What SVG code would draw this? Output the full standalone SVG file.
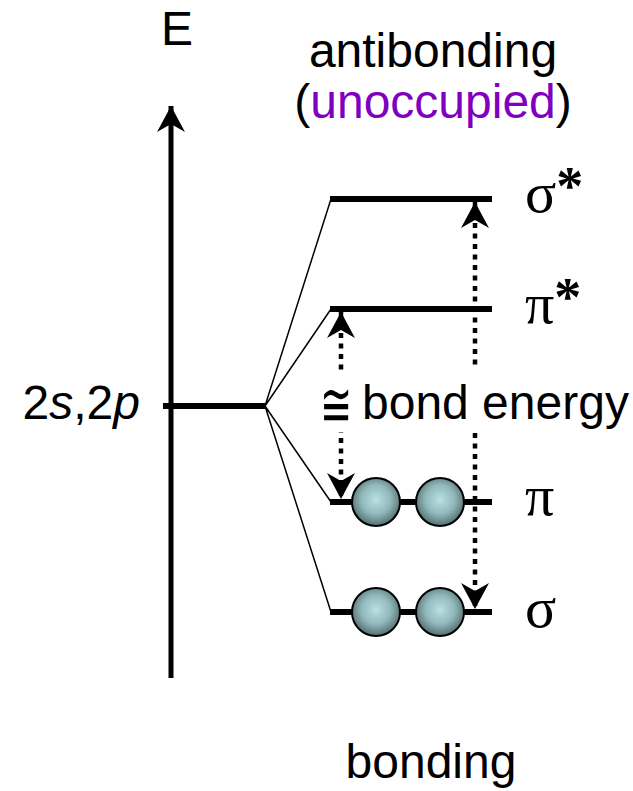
<svg xmlns="http://www.w3.org/2000/svg" width="633" height="791" viewBox="0 0 633 791">
<style>
.t{font-family:"Liberation Sans",Arial,sans-serif;font-size:48px;fill:#000}
.g{font-family:"Liberation Serif","Times New Roman",serif;font-size:58px;fill:#000}
.ast{font-weight:bold;font-size:54px}
.lvl{stroke:#000;stroke-width:6;fill:none}
.fan{stroke:#000;stroke-width:1.5;fill:none}
.dot{stroke:#000;stroke-width:4.5;stroke-dasharray:5 5.5;fill:none}
.ball{fill:url(#rg);stroke:#000;stroke-width:2}
</style>
<defs>
<radialGradient id="rg" cx="0.5" cy="0.45" r="0.55">
<stop offset="0" stop-color="#b8e2e6"/>
<stop offset="0.55" stop-color="#92b8bb"/>
<stop offset="1" stop-color="#536e70"/>
</radialGradient>
<marker id="ah" viewBox="-26 -14 27 28" refX="0" refY="0" markerWidth="27" markerHeight="28" markerUnits="userSpaceOnUse" orient="auto-start-reverse">
<path d="M0,0 L-26,-14 L-18,0 L-26,14 Z" fill="#000"/>
</marker>
</defs>
<g id="axis">
<line x1="171" y1="678" x2="171" y2="106" stroke="#000" stroke-width="5" marker-end="url(#ah)"/>
<text class="t" x="161" y="45">E</text>
</g>
<g id="atomic">
<line class="lvl" x1="163" y1="406" x2="266" y2="406"/>
<text class="t" x="140" y="419" text-anchor="end">2<tspan font-style="italic">s</tspan>,2<tspan font-style="italic">p</tspan></text>
</g>
<g id="connectors">
<polyline class="fan" points="331,199 265,406 331,309"/>
<polyline class="fan" points="331,502 265,406 331,612"/>
<line class="dot" x1="475" y1="202" x2="475" y2="609" marker-start="url(#ah)" marker-end="url(#ah)"/>
<line class="dot" x1="341" y1="312" x2="341" y2="499" marker-start="url(#ah)" marker-end="url(#ah)"/>
</g>
<g id="sigma-star">
<line class="lvl" x1="330" y1="199" x2="492" y2="199"/>
<text class="g" x="525" y="212">σ<tspan class="ast" dy="-8">*</tspan></text>
</g>
<g id="pi-star">
<line class="lvl" x1="330" y1="309" x2="492" y2="309"/>
<text class="g" x="525" y="323">π<tspan class="ast" dy="-8">*</tspan></text>
</g>
<g id="pi">
<line class="lvl" x1="330" y1="502" x2="492" y2="502"/>
<circle class="ball" cx="376" cy="502" r="24"/>
<circle class="ball" cx="440" cy="502" r="24"/>
<text class="g" x="525" y="515">π</text>
</g>
<g id="sigma">
<line class="lvl" x1="330" y1="612" x2="492" y2="612"/>
<circle class="ball" cx="376" cy="612" r="24"/>
<circle class="ball" cx="440" cy="612" r="24"/>
<text class="g" x="525" y="627">σ</text>
</g>
<g id="bond-energy">
<rect x="318" y="370" width="312" height="62" fill="#fff"/>
<text transform="translate(320,426) scale(0.77,1.23)" x="0" y="0" font-family="'DejaVu Sans',sans-serif" font-size="50">≅</text>
<text class="t" x="362" y="419" font-size="47">bond energy</text>
</g>
<g id="labels">
<text class="t" x="433" y="67" text-anchor="middle">antibonding</text>
<text class="t" x="433" y="118" text-anchor="middle">(<tspan fill="#7f00bf">unoccupied</tspan>)</text>
<text class="t" x="431" y="778" text-anchor="middle" font-size="50">bonding</text>
</g>
</svg>
